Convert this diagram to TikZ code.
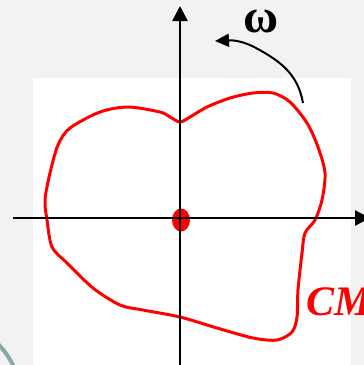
\documentclass[tikz,border=0pt]{standalone}
\usepackage{fontspec}
\setmainfont{Liberation Serif}
\usetikzlibrary{arrows.meta,shapes.geometric}
\definecolor{bggray}{HTML}{F2F2F2}
\definecolor{tealgray}{HTML}{8FA6A6}
\tikzset{
  axis/.style={line width=2.6pt,-{Triangle[length=15pt,width=15pt]}},
  cam/.style={red,line width=3pt,line join=round},
  rotarrow/.style={line width=2pt,-{Triangle[length=14pt,width=13pt]}}
}
\begin{document}
\begin{tikzpicture}[x=1pt,y=-1pt]
\useasboundingbox (0,0) rectangle (364,365);
\fill[bggray] (0,0) rectangle (364,365);
\fill[white] (33,78) rectangle (351,365);
\draw[tealgray,line width=4pt] (-2,344) .. controls (4,350) and (9,357) .. (14,367);
% cam profile
\draw[cam] plot[smooth cycle,tension=0.5] coordinates {
 (180,122) (170,117) (160,112) (128,107) (100,112) (70,128) (58,145)
 (50,173) (45,200) (47,220) (52,247) (67,263) (93,288) (120,305)
 (143,310) (180,317) (217,328) (253,338) (277,340) (292,332) (297,317)
 (298,290) (302,253) (305,233) (315,220) (322,200) (325,173) (318,147)
 (307,123) (290,102) (273,93) (253,93) (230,98) (207,107) (190,117)};
% centre
\node[fill=red,ellipse,inner sep=0pt,minimum width=18pt,minimum height=23pt] (c) at (181,220) {};
% axes
\coordinate (xl) at (13,218);
\coordinate (xr) at (370,218);
\coordinate (yb) at (180,367);
\coordinate (yt) at (180,6);
\draw[axis] (xl) -- (xr);
\draw[axis] (yb) -- (yt);
% rotation arrow
\coordinate (ws) at (303,103);
\coordinate (wt) at (215,41);
\draw[rotarrow] (ws) .. controls (298,75) and (282,62) .. (256,48) .. controls (245,42) and (235,40) .. (wt);
\node[font=\fontsize{48}{48}\selectfont\bfseries,anchor=base,inner sep=0pt] (omega) at (261,32) {ω};
\node[font=\fontsize{42}{42}\selectfont\bfseries\itshape,text=red,anchor=base west,inner sep=0pt] (cmlabel) at (306,315) {CM};
\end{tikzpicture}
\end{document}
